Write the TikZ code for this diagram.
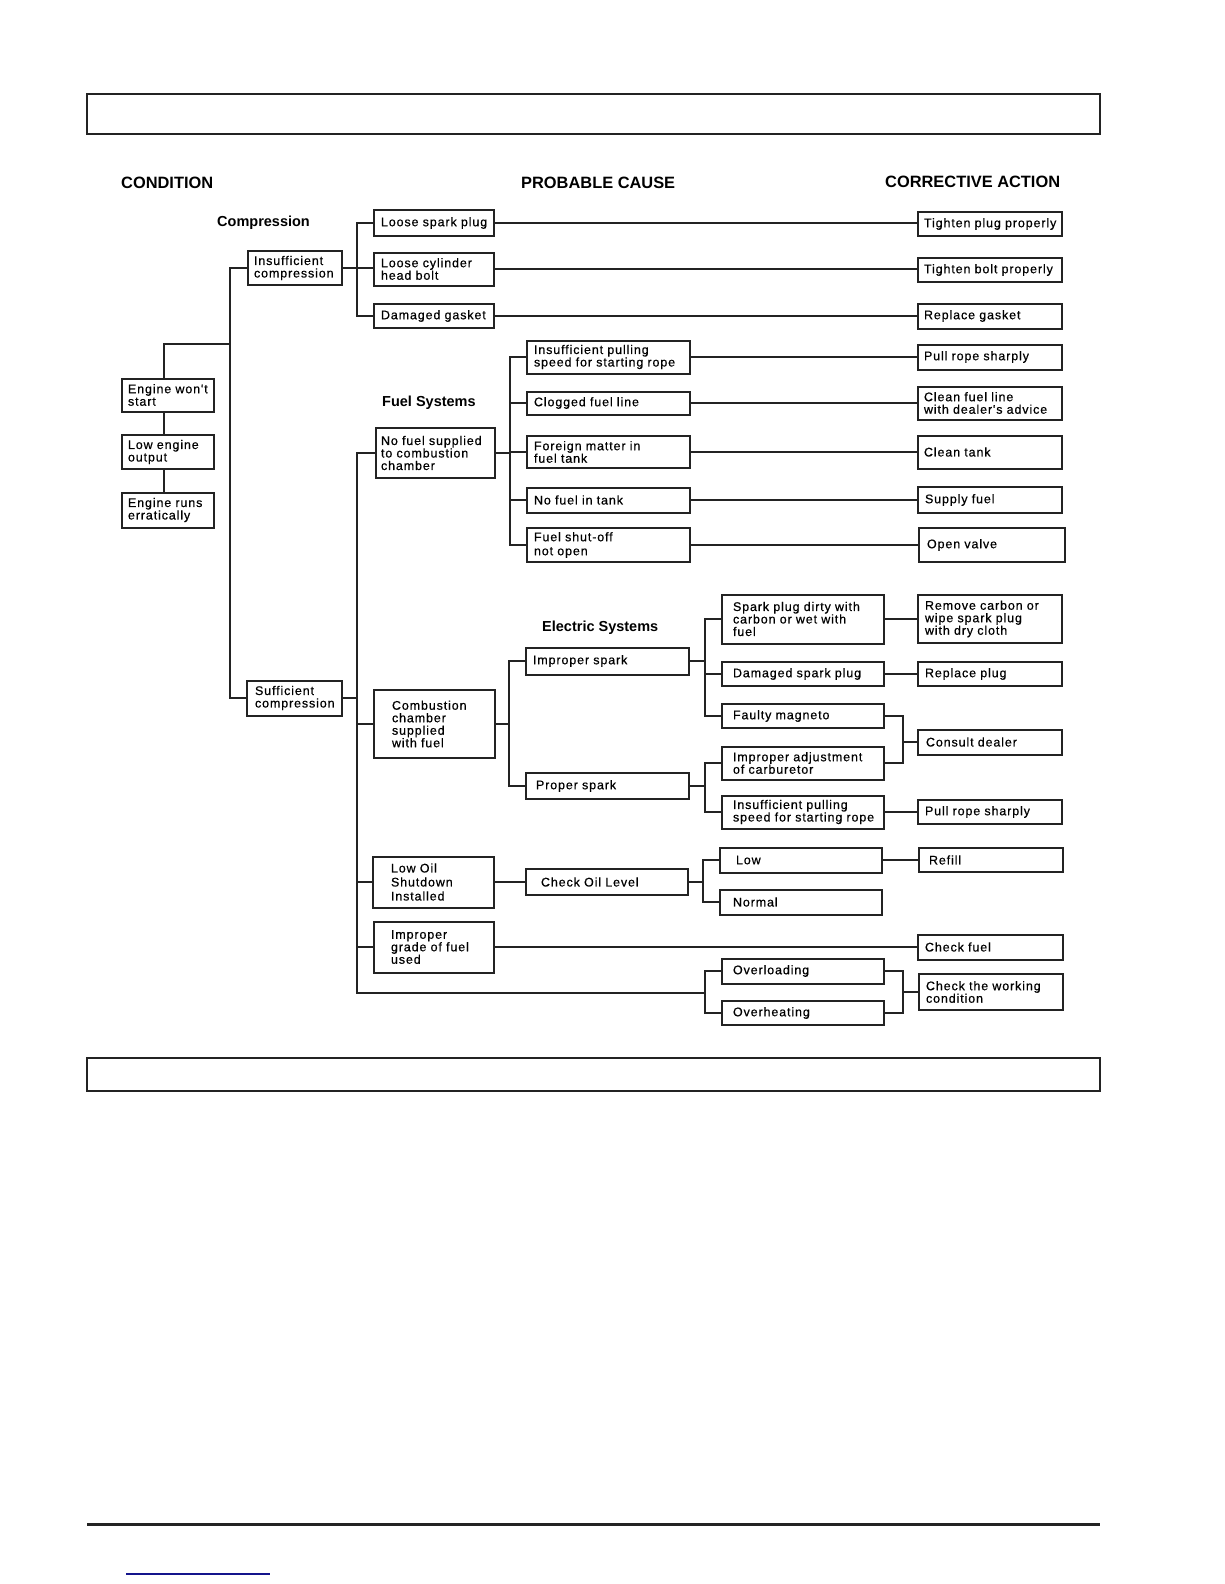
\documentclass[tikz,border=0pt]{standalone}
\usepackage{fontspec}
\setmainfont{Liberation Sans}
\newfontfamily\cellfam[LetterSpace=7,FakeBold=0.5]{Liberation Sans}
\newcommand{\cellfont}{\cellfam\fontsize{12.5pt}{12.5pt}\selectfont}
\definecolor{ink}{RGB}{35,35,35}
\definecolor{linkblue}{RGB}{20,20,140}
\usetikzlibrary{positioning}

\begin{document}
\begin{tikzpicture}[x=1pt, y=-1pt,
  box/.style={draw=ink, line width=2pt, inner xsep=0pt, inner ysep=0pt, align=left, font=\cellfont, execute at begin node={\leftskip=6pt}},
  sz/.style 2 args={text width=#1, minimum height=#2},
  pad/.style={execute at begin node={\leftskip=#1}},
  wire/.style={draw=ink, line width=2pt},
  head/.style={anchor=west, inner sep=0pt, font=\bfseries\fontsize{16.4pt}{16.4pt}\selectfont},
  group/.style={anchor=west, inner sep=0pt, font=\bfseries\fontsize{14.5pt}{14.5pt}\selectfont}]
  \fill[white] (0,0) rectangle (1224,1584);
  \useasboundingbox (0,0) rectangle (1224,1584);

  % page frames
  \draw[ink, line width=2.4pt] (87,94) rectangle (1100,134);
  \draw[ink, line width=2.4pt] (87,1058) rectangle (1100,1091);
  \draw[ink, line width=3pt] (87,1524) -- (1100,1524);
  \draw[linkblue, line width=1.5pt] (126,1574) -- (270,1574);

  % column heads
  \node[head] (hcond) at (121,183) {CONDITION};
  \node[head] (hcause) at (521,183) {PROBABLE CAUSE};
  \node[head] (hact) at (885,182) {CORRECTIVE ACTION};
  \node[group] (gcomp) at (217,223) {Compression};
  \node[group] (gfuel) at (382,403) {Fuel Systems};
  \node[group] (gelec) at (542,628) {Electric Systems};

  % condition
  \node[box, sz={92pt}{33pt}] (ews) at (168,395) {Engine won't\\start};
  \node[box, sz={92pt}{34pt}] (leo) at (168,452) {Low engine\\output};
  \node[box, sz={92pt}{35pt}] (era) at (168,510) {Engine runs\\erratically};
  \node[box, sz={94pt}{34pt}] (icp) at (295,268) {Insufficient\\compression};
  \node[box, sz={95pt}{35pt}, pad=8pt] (scp) at (294.5,698) {Sufficient\\compression};

  % probable cause
  \node[box, sz={120pt}{26pt}, pad=7pt] (lsp) at (434,223) {Loose spark plug};
  \node[box, sz={120pt}{33pt}, pad=7pt] (lch) at (434,269) {Loose cylinder\\head bolt};
  \node[box, sz={120pt}{24pt}, pad=7pt] (dgk) at (434,316) {Damaged gasket};
  \node[box, sz={119pt}{50pt}, pad=5pt] (nfs) at (435.5,453) {No fuel supplied\\to combustion\\chamber};
  \node[box, sz={121pt}{68pt}, pad=18pt] (ccs) at (434.5,724) {Combustion\\chamber\\supplied\\with fuel};
  \node[box, sz={121pt}{51pt}, pad=18pt] (los) at (433.5,882) {Low Oil\\[1.5pt]Shutdown\\[1.5pt]Installed};
  \node[box, sz={120pt}{51pt}, pad=17pt] (igf) at (434,947) {Improper\\grade of fuel\\used};

  \node[box, sz={163pt}{33pt}, pad=7pt] (ips) at (608.5,357) {Insufficient pulling\\speed for starting rope};
  \node[box, sz={163pt}{23pt}, pad=7pt] (cfl) at (608.5,403) {Clogged fuel line};
  \node[box, sz={163pt}{32pt}, pad=7pt] (fmt) at (608.5,452) {Foreign matter in\\fuel tank};
  \node[box, sz={163pt}{25pt}, pad=7pt] (nft) at (608.5,500) {No fuel in tank};
  \node[box, sz={163pt}{34pt}, pad=7pt, line width=2.6pt] (fso) at (608.5,545) {Fuel shut-off\\[1.5pt]not open};
  \node[box, sz={163pt}{27pt}, pad=7pt] (isp) at (607.5,661) {Improper spark};
  \node[box, sz={163pt}{26pt}, pad=10pt] (psp) at (607.5,786) {Proper spark};
  \node[box, sz={162pt}{26pt}, pad=15pt] (col) at (607,882) {Check Oil Level};

  \node[box, sz={162pt}{49pt}, pad=11pt] (spd) at (803,619) {Spark plug dirty with\\carbon or wet with\\fuel};
  \node[box, sz={162pt}{24pt}, pad=11pt] (dsp) at (803,674) {Damaged spark plug};
  \node[box, sz={162pt}{24pt}, pad=11pt] (fmg) at (803,716) {Faulty magneto};
  \node[box, sz={162pt}{33pt}, pad=11pt] (iac) at (803,763) {Improper adjustment\\of carburetor};
  \node[box, sz={162pt}{33pt}, pad=11pt] (ips2) at (803,812) {Insufficient pulling\\speed for starting rope};
  \node[box, sz={162pt}{25pt}, pad=16pt] (low) at (801,860) {Low};
  \node[box, sz={162pt}{25pt}, pad=13pt] (nrm) at (801,902) {Normal};
  \node[box, sz={162pt}{25pt}, pad=11pt] (ovl) at (803,971) {Overloading};
  \node[box, sz={162pt}{24pt}, pad=11pt] (ovh) at (803,1013) {Overheating};

  % corrective action
  \node[box, sz={144pt}{24pt}] (tpp) at (990,224) {Tighten plug properly};
  \node[box, sz={144pt}{24pt}] (tbp) at (990,270) {Tighten bolt properly};
  \node[box, sz={144pt}{25pt}] (rgk) at (990,316) {Replace gasket};
  \node[box, sz={144pt}{25pt}] (prs) at (990,357) {Pull rope sharply};
  \node[box, sz={144pt}{33pt}] (cfla) at (990,403) {Clean fuel line\\with dealer's advice};
  \node[box, sz={144pt}{33pt}] (ctk) at (990,452) {Clean tank};
  \node[box, sz={144pt}{26pt}, pad=7pt] (sfu) at (990,500) {Supply fuel};
  \node[box, sz={146pt}{34pt}, pad=8pt, line width=2.6pt] (opv) at (992,545) {\raisebox{-2pt}{Open valve}};
  \node[box, sz={144pt}{48pt}, pad=7pt] (rcw) at (990,619) {Remove carbon or\\wipe spark plug\\with dry cloth};
  \node[box, sz={144pt}{24pt}, pad=7pt] (rpl) at (990,674) {Replace plug};
  \node[box, sz={144pt}{25pt}, pad=8pt] (cdl) at (990,742) {Consult dealer};
  \node[box, sz={144pt}{24pt}, pad=7pt] (prs2) at (990,812) {Pull rope sharply};
  \node[box, sz={144pt}{24pt}, pad=10pt] (rfl) at (991,860) {Refill};
  \node[box, sz={145pt}{25pt}, pad=7pt] (cfu) at (990.5,947) {Check fuel};
  \node[box, sz={144pt}{36pt}, pad=7pt] (ctw) at (991,992) {Check the working\\condition};

  % bus junctions
  \coordinate (mj) at (230,344);
  \coordinate (cb) at (357,268);
  \coordinate (lb) at (357,993);
  \coordinate (ob) at (705,993);
  \coordinate (fb) at (510,452);
  \coordinate (eb) at (509,724);
  \coordinate (sb) at (705,661);
  \coordinate (pb) at (705,786);
  \coordinate (cj) at (903,742);
  \coordinate (kb) at (703,882);
  \coordinate (wj) at (903,992);

  % condition tree
  \draw[wire] ([xshift=-4pt]ews.north) |- (mj);
  \draw[wire] ([xshift=-4pt]ews.south) -- ([xshift=-4pt]leo.north);
  \draw[wire] ([xshift=-4pt]leo.south) -- ([xshift=-4pt]era.north);
  \draw[wire] (icp.west) -| (mj) |- (scp.west);

  % compression
  \draw[wire] (icp.east) -- (icp.east -| lch.west);
  \draw[wire] (lsp.west) -| (cb) |- (dgk.west);

  % sufficient compression
  \draw[wire] (nfs.west) -| (lb) -- (ob);
  \draw[wire] (scp.east) -- (scp.east -| lb);
  \draw[wire] (ccs.west -| lb) -- (ccs.west);
  \draw[wire] (los.west -| lb) -- (los.west);
  \draw[wire] (igf.west -| lb) -- (igf.west);
  \draw[wire] (ovl.west) -| (ob) |- (ovh.west);

  % fuel
  \draw[wire] (nfs.east) -- (nfs.east -| fb);
  \draw[wire] (ips.west) -| (fb) |- (fso.west);
  \draw[wire] (cfl.west -| fb) -- (cfl.west);
  \draw[wire] (fmt.west -| fb) -- (fmt.west);
  \draw[wire] (nft.west -| fb) -- (nft.west);

  % electric
  \draw[wire] (ccs.east) -- (ccs.east -| eb);
  \draw[wire] (isp.west) -| (eb) |- (psp.west);
  \draw[wire] (isp.east) -- (sb);
  \draw[wire] (spd.west) -| (sb) |- (fmg.west);
  \draw[wire] (dsp.west -| sb) -- (dsp.west);
  \draw[wire] (psp.east) -- (pb);
  \draw[wire] (iac.west) -| (pb) |- (ips2.west);
  \draw[wire] (fmg.east) -| (cj) |- (iac.east);
  \draw[wire] (cj) -- (cdl.west);

  % oil, fuel grade, load
  \draw[wire] (los.east) -- (los.east -| col.west);
  \draw[wire] (col.east) -- (kb);
  \draw[wire] (low.west) -| (kb) |- (nrm.west);
  \draw[wire] (ovl.east) -| (wj) |- (ovh.east);
  \draw[wire] (wj) -- (ctw.west);

  % cause to action
  \foreach \a/\b in {lsp/tpp, lch/tbp, dgk/rgk, ips/prs, cfl/cfla, fmt/ctk, nft/sfu, fso/opv, spd/rcw, dsp/rpl, ips2/prs2, low/rfl, igf/cfu}
    \draw[wire] (\a.east) -- (\a.east -| \b.west);
\end{tikzpicture}
\end{document}
